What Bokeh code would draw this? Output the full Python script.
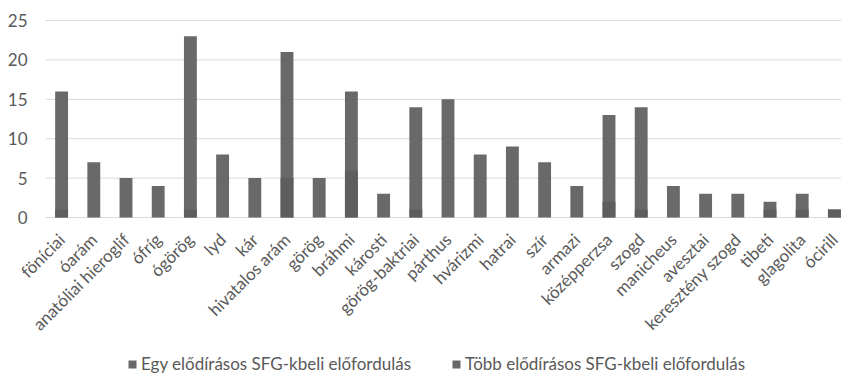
import math
from bokeh.plotting import figure
from bokeh.models import Range1d, Legend, LegendItem, ColumnDataSource
from bokeh.core.properties import value
from bokeh.embed import file_html
from bokeh.resources import INLINE

categories = ["föníciai", "óarám", "anatóliai hieroglif", "ófríg", "ógörög", "lyd", "kár",
              "hivatalos arám", "görög", "bráhmi", "károsti", "görög-baktriai", "párthus",
              "hvárizmi", "hatrai", "szír", "armazi", "középperzsa", "szogd", "manicheus",
              "avesztai", "keresztény szogd", "tibeti", "glagolita", "ócirill"]
egy = [16, 7, 5, 4, 23, 8, 5, 21, 5, 16, 3, 14, 15, 8, 9, 7, 4, 13, 14, 4, 3, 3, 2, 3, 1]
tobb = [1, 0, 0, 0, 1, 0, 0, 5, 0, 6, 0, 1, 0, 0, 0, 0, 0, 2, 1, 0, 0, 0, 1, 1, 1]
y_ticks = [0, 5, 10, 15, 20, 25]
y_tick_labels = ["0", "5", "10", "15", "20", "25"]
series_names = ["Egy elődírásos SFG-kbeli előfordulás", "Több elődírásos SFG-kbeli előfordulás"]

xs = list(range(len(categories)))
src = ColumnDataSource(dict(x=xs, egy=egy, tobb=tobb, cat=categories))
ysrc = ColumnDataSource(dict(y=y_ticks, lab=y_tick_labels))

FONT = "Lato"
TXT = "#595959"
W, H = 841, 374
PLOT_LEFT_PX, PLOT_TOP_PX = 45, 20       # where the value area starts
PX_X = 32.2                              # px per category
PX_Y = 197 / 25                          # px per unit (0..25 spans 197 px)
X_LO = -0.5
X_START = X_LO - PLOT_LEFT_PX / PX_X
X_END = X_START + W / PX_X
Y_END = 25 + PLOT_TOP_PX / PX_Y
Y_START = Y_END - H / PX_Y

# the frame covers the whole canvas so that rotated labels and legend are not clipped
p = figure(width=W, height=H, x_range=Range1d(X_START, X_END), y_range=Range1d(Y_START, Y_END),
           output_backend="svg", toolbar_location=None,
           x_axis_location=None, y_axis_location=None,
           min_border_left=0, min_border_right=0, min_border_top=0, min_border_bottom=0)
p.outline_line_color = None
p.background_fill_color = "white"
p.border_fill_color = "white"
p.grid.grid_line_color = None

# horizontal gridlines (value axis)
p.segment(x0=X_LO, x1=X_END, y0="y", y1="y", source=ysrc, line_color="#d9d9d9", line_width=1)

r1 = p.vbar(x="x", top="egy", bottom=0, width=0.4, source=src, fill_color="#5e5e5e",
            fill_alpha=0.93, line_color=None)
r2 = p.vbar(x="x", top="tobb", bottom=0, width=0.4, source=src, fill_color="#5e5e5e",
            fill_alpha=0.93, line_color=None)

# value-axis labels
p.text(x=X_LO, y="y", text="lab", source=ysrc, x_offset=-18,
       text_align="right", text_baseline="middle",
       text_font=value(FONT), text_font_size="17px", text_color=TXT)

# category labels, rotated 45 degrees, ending just right of each bar
p.text(x="x", y=0, text="cat", source=src, angle=math.pi / 4,
       text_align="right", text_baseline="middle", x_offset=0, y_offset=19,
       text_font=value(FONT), text_font_size="17px", text_color=TXT)

legend = Legend(items=[LegendItem(label=series_names[0], renderers=[r1]),
                       LegendItem(label=series_names[1], renderers=[r2])],
                orientation="horizontal", location=(127, 0), padding=0, margin=0,
                spacing=40, glyph_width=10, glyph_height=10, label_standoff=4,
                label_height=18,
                label_text_font=FONT, label_text_font_size="17px", label_text_color=TXT,
                border_line_color=None, background_fill_alpha=0)
p.add_layout(legend)

open("out.html", "w").write(file_html(p, INLINE))
